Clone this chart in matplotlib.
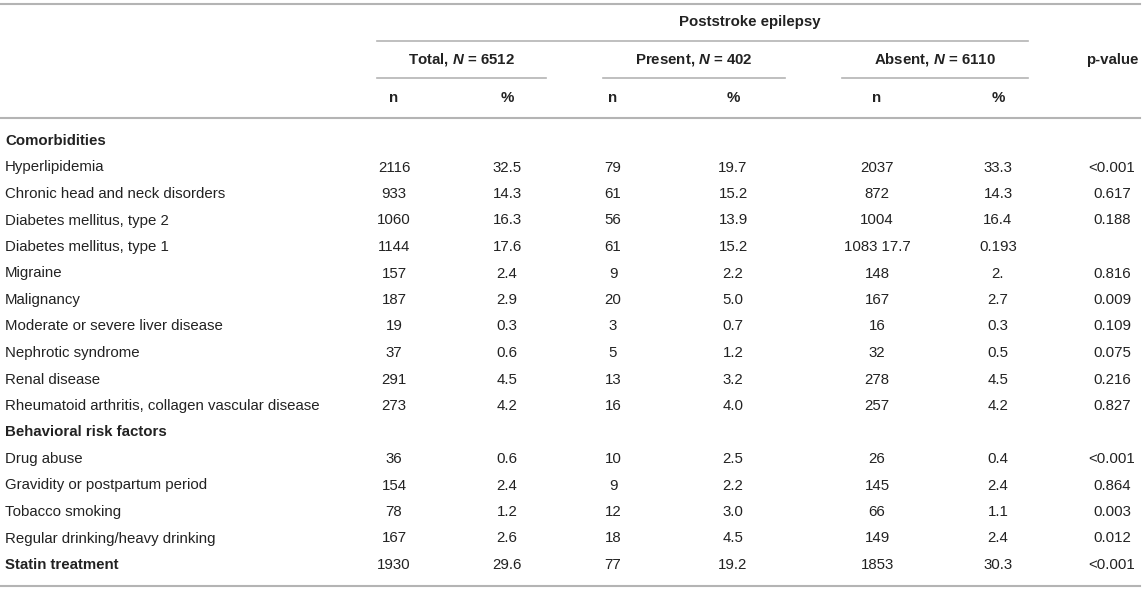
import matplotlib
matplotlib.use("Agg")
import matplotlib.pyplot as plt

plt.rcParams['font.family'] = ['Liberation Sans', 'DejaVu Sans']
plt.rcParams['mathtext.fontset'] = 'custom'
plt.rcParams['mathtext.bfit'] = 'Liberation Sans:bold:italic'
plt.rcParams['mathtext.it'] = 'Liberation Sans:italic'
plt.rcParams['mathtext.bf'] = 'Liberation Sans:bold'
plt.rcParams['mathtext.rm'] = 'Liberation Sans'

# table content
labels = ["Comorbidities", "Hyperlipidemia", "Chronic head and neck disorders",
          "Diabetes mellitus, type 2", "Diabetes mellitus, type 1", "Migraine",
          "Malignancy", "Moderate or severe liver disease", "Nephrotic syndrome",
          "Renal disease", "Rheumatoid arthritis, collagen vascular disease",
          "Behavioral risk factors", "Drug abuse", "Gravidity or postpartum period",
          "Tobacco smoking", "Regular drinking/heavy drinking", "Statin treatment"]
bold_rows = ["Comorbidities", "Behavioral risk factors", "Statin treatment"]

total_n = ["", "2116", "933", "1060", "1144", "157", "187", "19", "37", "291", "273",
           "", "36", "154", "78", "167", "1930"]
total_pct = ["", "32.5", "14.3", "16.3", "17.6", "2.4", "2.9", "0.3", "0.6", "4.5", "4.2",
             "", "0.6", "2.4", "1.2", "2.6", "29.6"]
present_n = ["", "79", "61", "56", "61", "9", "20", "3", "5", "13", "16",
             "", "10", "9", "12", "18", "77"]
present_pct = ["", "19.7", "15.2", "13.9", "15.2", "2.2", "5.0", "0.7", "1.2", "3.2", "4.0",
               "", "2.5", "2.2", "3.0", "4.5", "19.2"]
absent_n = ["", "2037", "872", "1004", "1083 17.7", "148", "167", "16", "32", "278", "257",
            "", "26", "145", "66", "149", "1853"]
absent_pct = ["", "33.3", "14.3", "16.4", "0.193", "2.", "2.7", "0.3", "0.5", "4.5", "4.2",
              "", "0.4", "2.4", "1.1", "2.4", "30.3"]
p_values = ["", "<0.001", "0.617", "0.188", "", "0.816", "0.009", "0.109", "0.075", "0.216",
            "0.827", "", "<0.001", "0.864", "0.003", "0.012", "<0.001"]

groups = ["Total", "Present", "Absent"]
group_sizes = [6512, 402, 6110]

W, H = 1145, 590
fig = plt.figure(figsize=(W / 100, H / 100), dpi=100)
ax = fig.add_axes([0, 0, 1, 1])
ax.set_xlim(0, W)
ax.set_ylim(H, 0)
ax.axis('off')

txt = '#222222'
line_c = '#b4b4b4'
fs = 10.8

col_x = [394, 507, 613, 733, 877, 998, 1112]
group_span = [(377, 546), (603, 785), (842, 1028)]

# rules
ax.plot([0, 1140], [4, 4], color=line_c, lw=1.5)
ax.plot([377, 1028], [41, 41], color=line_c, lw=1.2)
for x0, x1 in group_span:
    ax.plot([x0, x1], [78, 78], color=line_c, lw=1.2)
ax.plot([0, 1140], [118, 118], color=line_c, lw=1.5)
ax.plot([0, 1140], [586, 586], color=line_c, lw=1.5)

# header
ax.text(750, 22, "Poststroke epilepsy", ha='center', va='center', fontsize=fs,
        fontweight='bold', color=txt)
for (x0, x1), g, n in zip(group_span, groups, group_sizes):
    ax.text((x0 + x1) / 2, 60, g + r", $\mathbfit{N}$ = " + str(n), ha='center', va='center',
            fontsize=fs, fontweight='bold', color=txt)
for i, h in enumerate(["n", "%"] * 3):
    ax.text(col_x[i], 98, h, ha='center', va='center', fontsize=fs, fontweight='bold', color=txt)
ax.text(col_x[6], 60, "p-value", ha='center', va='center', fontsize=fs,
        fontweight='bold', color=txt)

# body
cols = [total_n, total_pct, present_n, present_pct, absent_n, absent_pct, p_values]
for r, lab in enumerate(labels):
    y = 141 + r * 26.5
    w = 'bold' if lab in bold_rows else 'normal'
    ax.text(5, y, lab, ha='left', va='center', fontsize=fs, fontweight=w, color=txt)
    for c, vals in enumerate(cols):
        ax.text(col_x[c], y, vals[r], ha='center', va='center', fontsize=fs, color=txt)

plt.savefig('out.png', dpi=100)
